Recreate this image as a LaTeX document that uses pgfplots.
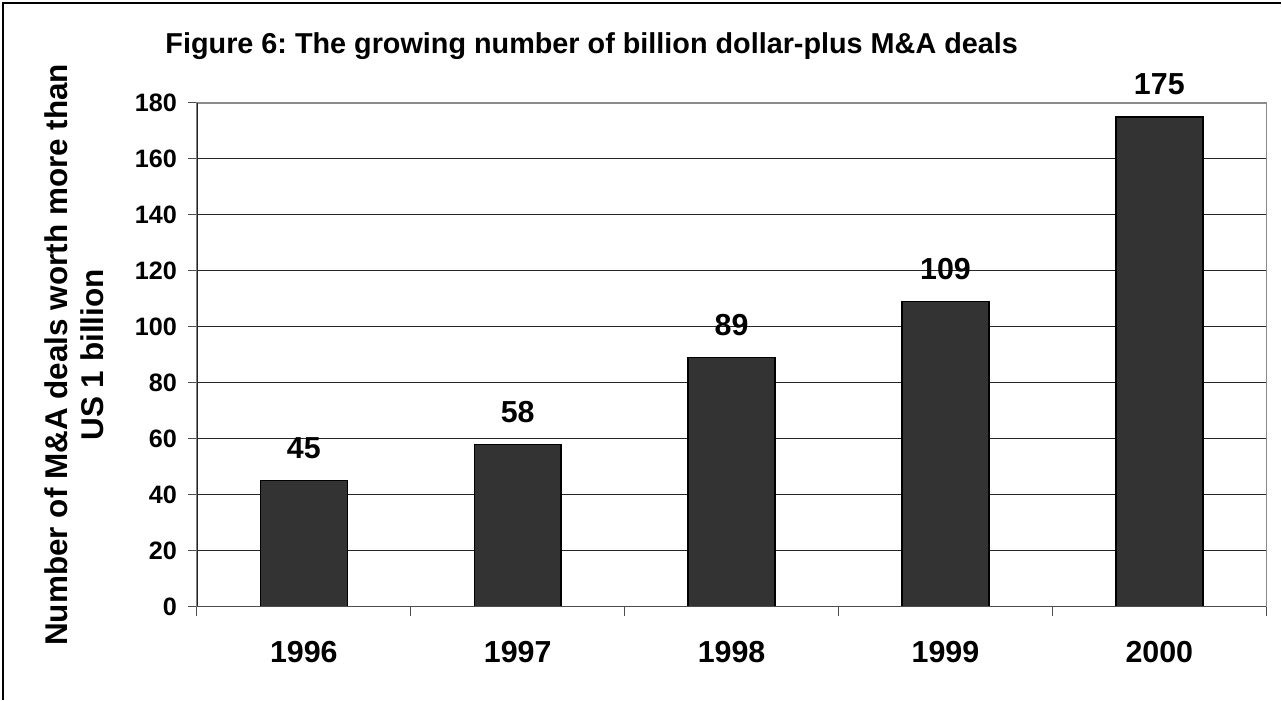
\documentclass[border=0pt]{standalone}
\usepackage{fontspec}
\setmainfont{Liberation Sans}
\usepackage{pgfplots}
\pgfplotsset{compat=1.18}
\definecolor{barfill}{HTML}{333333}
\frenchspacing
\begin{document}
\begin{tikzpicture}[x=0.75pt,y=0.75pt]
\path (0,0) rectangle (1282,700);
\draw[black, line width=1.1pt] (3,0) -- (3,697) -- (1282,697);
\node[anchor=base, inner sep=0pt, font=\bfseries\fontsize{21.6}{26}\selectfont] at (592,646) {Figure 6: The growing number of billion dollar-plus M\&A deals};
\begin{axis}[
  at={(147.75pt,69.75pt)}, anchor=south west,
  scale only axis, width=802.5pt, height=378pt,
  xmin=-0.5, xmax=4.5, ymin=0, ymax=180,
  /pgf/number format/assume math mode=true,
  ytick={0,20,...,180},
  xtick={0,1,2,3,4},
  xticklabels={1996,1997,1998,1999,2000},
  minor xtick={-0.5,0.5,1.5,2.5,3.5,4.5},
  tick align=outside,
  major tick length=6.75pt,
  minor tick length=6.75pt,
  every major x tick/.style={draw=none},
  ytick pos=left,
  xtick pos=bottom,
  tick style={black!70, line width=0.75pt},
  minor tick style={black!70, line width=0.75pt},
  ymajorgrids,
  grid style={black!85, line width=0.75pt},
  axis line style={black!45, line width=1.1pt},
  yticklabel style={anchor=east, inner sep=0pt, xshift=-8pt, font=\bfseries\fontsize{18.9}{22}\selectfont},
  xticklabel style={anchor=base, inner sep=0pt, yshift=-35.25pt, font=\bfseries\fontsize{22.8}{27}\selectfont},
  ylabel={Number of M\&A deals worth more than\\US 1 billion},
  ylabel style={align=center, font=\bfseries\fontsize{23.6}{27}\selectfont, at={(axis description cs:-0.1145,0.5)}, anchor=center},
  ybar, bar width=0.4065,
  nodes near coords,
  every node near coord/.append style={font=\bfseries\fontsize{22.8}{27}\selectfont, anchor=base, yshift=16.5pt, black},
]
\addplot[fill=barfill, draw=black, line width=1.1pt] coordinates {(0,45) (1,58) (2,89) (3,109) (4,175)};
\draw[black!85, line width=1.1pt] (rel axis cs:0,0) -- (rel axis cs:0,1);
\draw[black!70, line width=1.1pt] (rel axis cs:0,0) -- (rel axis cs:1,0);
\end{axis}
\end{tikzpicture}
\end{document}
